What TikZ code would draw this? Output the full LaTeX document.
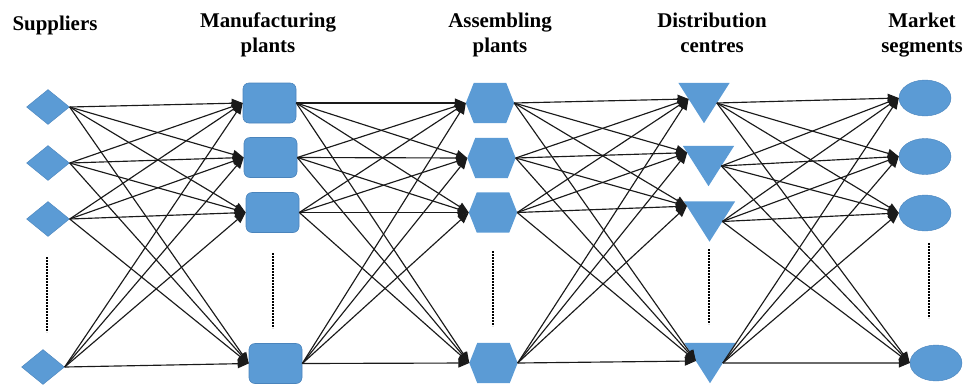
\documentclass[tikz,border=0pt]{standalone}
\usepackage{fontspec}
\setmainfont{Liberation Serif}
\usetikzlibrary{shapes.geometric,arrows.meta,calc}
\definecolor{nodeblue}{HTML}{5B9BD5}
\definecolor{edgeblue}{HTML}{4A84BC}
\definecolor{linkgray}{HTML}{1A1A1A}
\tikzset{
  title/.style={font=\bfseries\fontsize{21}{25}\selectfont, align=center, anchor=base, inner sep=0pt},
  supplier/.style={diamond, minimum width=43bp, minimum height=35bp, inner sep=0pt, fill=nodeblue, draw=edgeblue, line width=0.4bp},
  plant/.style={rectangle, rounded corners=6bp, minimum width=53bp, minimum height=40bp, inner sep=0pt, fill=nodeblue, draw=edgeblue, line width=0.6bp},
  market/.style={ellipse, minimum width=52bp, minimum height=36bp, inner sep=0pt, fill=nodeblue, draw=edgeblue, line width=0.4bp},
  hexbox/.style={rectangle, minimum width=48bp, minimum height=40bp, inner sep=0pt},
  tribox/.style={rectangle, minimum width=51bp, minimum height=40bp, inner sep=0pt},
  shapefill/.style={fill=nodeblue},
  link/.style={draw=linkgray, line width=1.15bp, -{Triangle[length=11bp,width=9bp]}},
  more/.style={line width=2.6bp, dash pattern=on 1.5bp off 1.5bp}
}
\begin{document}
\begin{tikzpicture}[x=1bp,y=-1bp]
\useasboundingbox (0,0) rectangle (973,386);

% column headings (base anchor sits on the last line)
\node[title] (tS) at (55,30) {Suppliers};
\node[title] (tM) at (268,52) {Manufacturing\\plants};
\node[title] (tA) at (500,52) {Assembling\\plants};
\node[title] (tD) at (712,52) {Distribution\\centres};
\node[title] (tE) at (922,52) {Market\\segments};

% suppliers
\node[supplier] (S1) at (48,107) {};
\node[supplier] (S2) at (48,163) {};
\node[supplier] (S3) at (48,219) {};
\node[supplier] (S4) at (43,367) {};

% manufacturing plants
\node[plant] (M1) at (269.5,103) {};
\node[plant] (M2) at (270.5,157.5) {};
\node[plant] (M3) at (272.5,212.5) {};
\node[plant] (M4) at (275.5,363.5) {};

% assembling plants (hexagons)
\node[hexbox] (H1) at (490,103) {};
\node[hexbox] (H2) at (491.5,158) {};
\node[hexbox] (H3) at (493,212.5) {};
\node[hexbox] (H4) at (493.5,363) {};
\foreach \i in {1,...,4}
  \fill[shapefill] ([xshift=8bp]H\i.north west) -- ([xshift=-8bp]H\i.north east) -- (H\i.east)
    -- ([xshift=-8bp]H\i.south east) -- ([xshift=8bp]H\i.south west) -- (H\i.west) -- cycle;

% distribution centres (downward triangles)
\node[tribox] (T1) at (704,103) {};
\node[tribox] (T2) at (708.5,166) {};
\node[tribox] (T3) at (709.5,221.5) {};
\node[tribox] (T4) at (710,363) {};
\foreach \i in {1,...,4}
  \fill[shapefill] (T\i.north west) -- (T\i.north east) -- (T\i.south) -- cycle;
\coordinate (T1in) at ($(T1.north west)!0.40!(T1.south)$);
\coordinate (T2in) at ($(T2.north west)!0.17!(T2.south)$);
\coordinate (T3in) at ($(T3.north west)!0.12!(T3.south)$);
\coordinate (T4in) at ($(T4.north west)!0.45!(T4.south)$);
\foreach \i in {1,...,4}
  \coordinate (T\i out) at ($(T\i.north east)!0.5!(T\i.south)$);

% market segments
\node[market] (E1) at (925,98) {};
\node[market] (E2) at (925,156.5) {};
\node[market] (E3) at (925,213) {};
\node[market] (E4) at (936,363) {};

% links between consecutive stages
\foreach \a in {1,...,4}
  \foreach \b in {1,...,4} {
    \draw[link] (S\a.east) -- (M\b.west);
    \draw[link] (M\a.east) -- (H\b.west);
    \draw[link] (H\a.east) -- (T\b in);
    \draw[link] (T\a out) -- (E\b.west);
  }

% vertical ellipsis marks
\draw[more] (47,257) -- (47,332);
\draw[more] (273,253) -- (273,328);
\draw[more] (493,251) -- (493,326);
\draw[more] (709,249) -- (709,324);
\draw[more] (929,243) -- (929,318);
\end{tikzpicture}
\end{document}
